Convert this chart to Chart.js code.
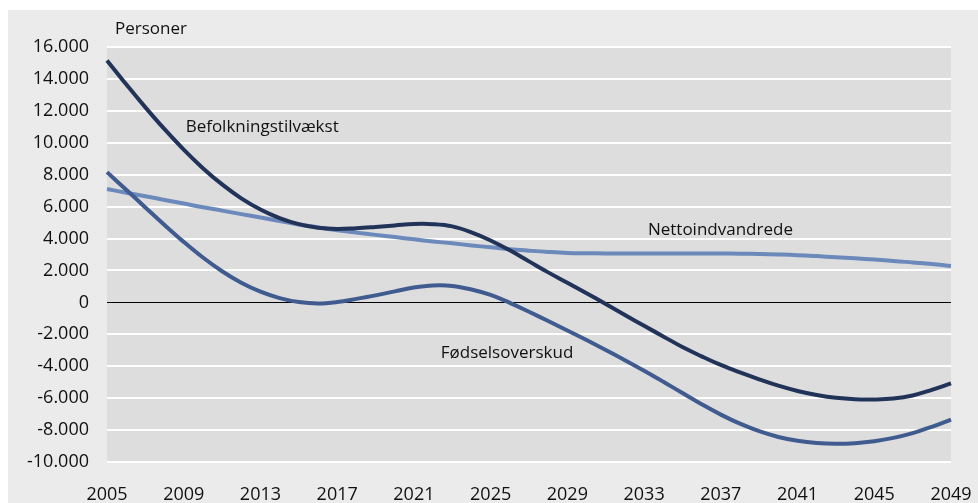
<!DOCTYPE html>
<html lang="da">
<head>
<meta charset="utf-8">
<title>Befolkningstilvækst</title>
<script src="https://cdn.jsdelivr.net/npm/chart.js@4/dist/chart.umd.min.js"></script>
<style>
  html, body { margin: 0; padding: 0; background: #fff; }
  canvas { display: block; }
</style>
</head>
<body>
<canvas id="popChart" width="978" height="503"></canvas>
<script>
/* ================================
   Data
================================ */
const years = [];
for (let y = 2005; y <= 2049; y++) years.push(String(y));

const befolkningstilvaekst = [
  15160, 13660, 12220, 10850, 9570, 8410, 7390, 6520, 5820, 5280,
  4900, 4670, 4600, 4650, 4730, 4820, 4910, 4900, 4760, 4390,
  3880, 3260, 2570, 1880, 1230, 570, -100, -790, -1470, -2130,
  -2800, -3380, -3920, -4390, -4820, -5220, -5550, -5800, -5980, -6070,
  -6080, -6020, -5830, -5480, -5080
];

const nettoindvandrede = [
  7100, 6870, 6650, 6420, 6190, 5960, 5750, 5530, 5320, 5100,
  4880, 4700, 4520, 4370, 4230, 4090, 3950, 3820, 3700, 3570,
  3450, 3330, 3240, 3160, 3100, 3080, 3070, 3060, 3060, 3060,
  3060, 3060, 3060, 3050, 3030, 3000, 2960, 2900, 2830, 2760,
  2680, 2600, 2500, 2400, 2280
];

const foedselsoverskud = [
  8160, 7060, 5950, 4850, 3790, 2810, 1950, 1230, 670, 270,
  20, -70, 20, 220, 440, 690, 930, 1060, 1030, 810,
  470, -30, -590, -1170, -1760, -2360, -2980, -3620, -4280, -4970,
  -5680, -6380, -7030, -7600, -8070, -8430, -8670, -8810, -8860, -8820,
  -8700, -8490, -8190, -7800, -7350
];

const seriesNames = ["Befolkningstilvækst", "Nettoindvandrede", "Fødselsoverskud"];

/* ================================
   Helpers
================================ */
function fmtDa(v) {
  const s = Math.abs(v).toString().replace(/\B(?=(\d{3})+(?!\d))/g, ".");
  return (v < 0 ? "-" : "") + s;
}

// label anchors: year (fractional ok) + value, left aligned, vertically centred
const inlineLabels = [
  { text: seriesNames[0], year: 2009.1, value: 10950 },
  { text: seriesNames[1], year: 2033.2, value: 4550 },
  { text: seriesNames[2], year: 2022.4, value: -3200 }
];

/* ================================
   Plugins
================================ */
const backgroundPlugin = {
  id: "backgroundPlugin",
  beforeDraw(chart) {
    const { ctx, chartArea: a } = chart;
    ctx.save();
    ctx.fillStyle = "#ffffff";
    ctx.fillRect(0, 0, chart.width, chart.height);
    ctx.fillStyle = "#ebebeb";
    ctx.fillRect(8, 10, chart.width - 8, chart.height - 10);
    ctx.fillStyle = "#dddddd";
    ctx.fillRect(a.left, a.top, a.right - a.left, a.bottom - a.top);
    ctx.restore();
  }
};

const labelPlugin = {
  id: "labelPlugin",
  afterDatasetsDraw(chart) {
    const { ctx, scales, chartArea } = chart;
    ctx.save();
    ctx.font = "17px 'Open Sans', sans-serif";
    ctx.fillStyle = "#111111";
    ctx.textAlign = "left";
    ctx.textBaseline = "middle";

    inlineLabels.forEach(l => {
      const x = scales.x.getPixelForValue(l.year - 2005);
      const y = scales.y.getPixelForValue(l.value);
      ctx.fillText(l.text, x, y);
    });

    // unit label above the plot
    ctx.fillText("Personer", chartArea.left + 8, chartArea.top - 18);
    ctx.restore();
  }
};

/* ================================
   Chart
================================ */
const tickFont = { family: "'Open Sans', sans-serif", size: 18 };

new Chart(document.getElementById("popChart"), {
  type: "line",
  data: {
    labels: years,
    datasets: [
      {
        label: seriesNames[1],
        data: nettoindvandrede,
        borderColor: "#6c89bc",
        order: 3
      },
      {
        label: seriesNames[2],
        data: foedselsoverskud,
        borderColor: "#405b90",
        order: 2
      },
      {
        label: seriesNames[0],
        data: befolkningstilvaekst,
        borderColor: "#22335a",
        order: 1
      }
    ].map(d => ({
      ...d,
      borderWidth: 4,
      pointRadius: 0,
      tension: 0.4,
      fill: false
    }))
  },
  options: {
    responsive: false,
    animation: false,
    devicePixelRatio: 1,
    layout: { padding: { left: 0, top: 47, right: 27, bottom: 0 } },
    plugins: {
      legend: { display: false },
      tooltip: { enabled: false }
    },
    scales: {
      x: {
        type: "category",
        offset: false,
        grid: { display: false, drawTicks: false },
        border: { display: false },
        ticks: {
          autoSkip: false,
          maxRotation: 0,
          padding: 22,
          color: "#111",
          font: tickFont,
          callback: (v, i) => ((i % 4 === 0) ? years[i] : "")
        },
        afterFit: s => {
          s.height = 41;
          s.paddingLeft = 0;
          s.paddingRight = 0;
        }
      },
      y: {
        min: -10000,
        max: 16000,
        grid: {
          drawTicks: false,
          color: c => (c.tick && c.tick.value === 0 ? "#000000" : "#ffffff"),
          lineWidth: c => (c.tick && c.tick.value === 0 ? 1 : 2)
        },
        border: { display: false },
        ticks: {
          stepSize: 2000,
          padding: 18,
          color: "#111",
          font: tickFont,
          callback: v => fmtDa(v)
        },
        afterFit: s => {
          s.width = 107;
          s.paddingTop = 0;
          s.paddingBottom = 0;
        }
      }
    }
  },
  plugins: [backgroundPlugin, labelPlugin]
});
</script>
</body>
</html>
